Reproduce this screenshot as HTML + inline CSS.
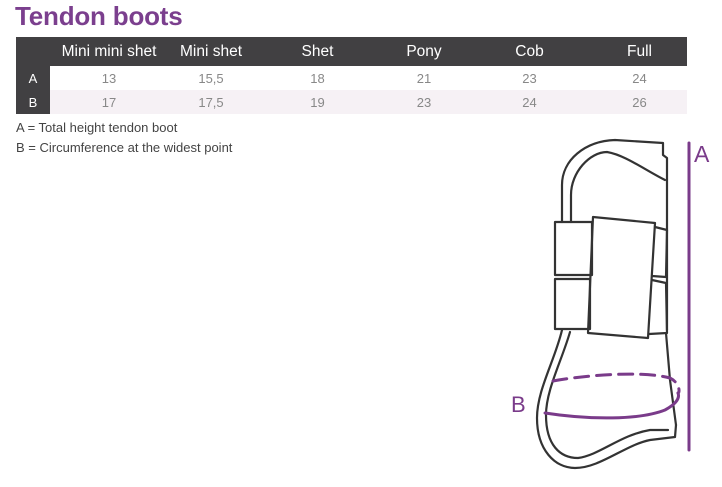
<!DOCTYPE html>
<html><head><style>
body{margin:0;width:722px;height:487px;background:#fff;font-family:"Liberation Sans",sans-serif;position:relative;overflow:hidden}
.t{position:absolute;left:15px;top:1px;font-size:26px;color:#7b3f8e;font-weight:bold;letter-spacing:-0.2px}
table{position:absolute;left:16px;top:37px;width:671px;border-collapse:collapse;font-size:14px}
th{background:#414042;color:#fff;font-weight:normal;height:29px;font-size:15.5px;padding:0}
td{height:24px;color:#888;text-align:center;padding:0;font-size:13px}
td.l{background:#414042;color:#fff;width:34px}
tr.b td{background:#f6f1f5}
tr.b td.l{background:#414042}
.n{position:absolute;left:16px;font-size:13px;color:#444}
</style></head><body>
<div class="t">Tendon boots</div>
<table>
<tr><th style="width:34px"></th><th style="width:118px">Mini mini shet</th><th style="width:86px">Mini shet</th><th style="width:127px">Shet</th><th style="width:86px">Pony</th><th style="width:125px">Cob</th><th>Full</th></tr>
<tr><td class="l">A</td><td>13</td><td>15,5</td><td>18</td><td>21</td><td>23</td><td>24</td></tr>
<tr class="b"><td class="l">B</td><td>17</td><td>17,5</td><td>19</td><td>23</td><td>24</td><td>26</td></tr>
</table>
<div class="n" style="top:120px">A = Total height tendon boot</div>
<div class="n" style="top:140px">B = Circumference at the widest point</div>
<svg width="722" height="487" style="position:absolute;left:0;top:0" fill="none" stroke-linejoin="round" stroke-linecap="round">
<g stroke="#333" stroke-width="2.2">
<path d="M562,222 L562,185 C562,160 585,141 615,140 L663,143 L663,155 L667,158 L667,330"/>
<path d="M571,222 L571,195 C571,172 590,152 607,152 C625,155 645,170 665,180"/>
<path d="M562,330 C555,360 537,390 537,418 C537,450 555,468 575,468 C600,468 625,445 650,440 L675,437 L676,425"/>
<path d="M570,332 C562,360 546,390 546,415 C546,445 560,458 578,458 C600,455 620,435 650,430 L668,430"/>
<rect x="555" y="222" width="37" height="53"/>
<rect x="555" y="279" width="35" height="50"/>
<path d="M593,217 L655,223 L648,338 L588,333 Z"/>
<path d="M655,227 L667,230 L666,277 L652,276"/>
<path d="M652,280 L666,283 L667,333 L649,334"/>
<path d="M666,333 L670,380 L676,425"/>
</g>
<g stroke="#7a3b8a" stroke-width="3">
<path d="M553,381 C580,376 640,370 670,378 C680,383 680,393 678,393" stroke-dasharray="14,8"/>
<path d="M545,413 C590,420 640,420 665,410 C676,404 680,398 678,393"/>
<line x1="689" y1="143" x2="689" y2="450"/>
</g>
<text x="694" y="162" font-size="23" fill="#7a3b8a" font-family="Liberation Sans">A</text>
<text x="511" y="412" font-size="22" fill="#7a3b8a" font-family="Liberation Sans">B</text>
</svg>
</body></html>
